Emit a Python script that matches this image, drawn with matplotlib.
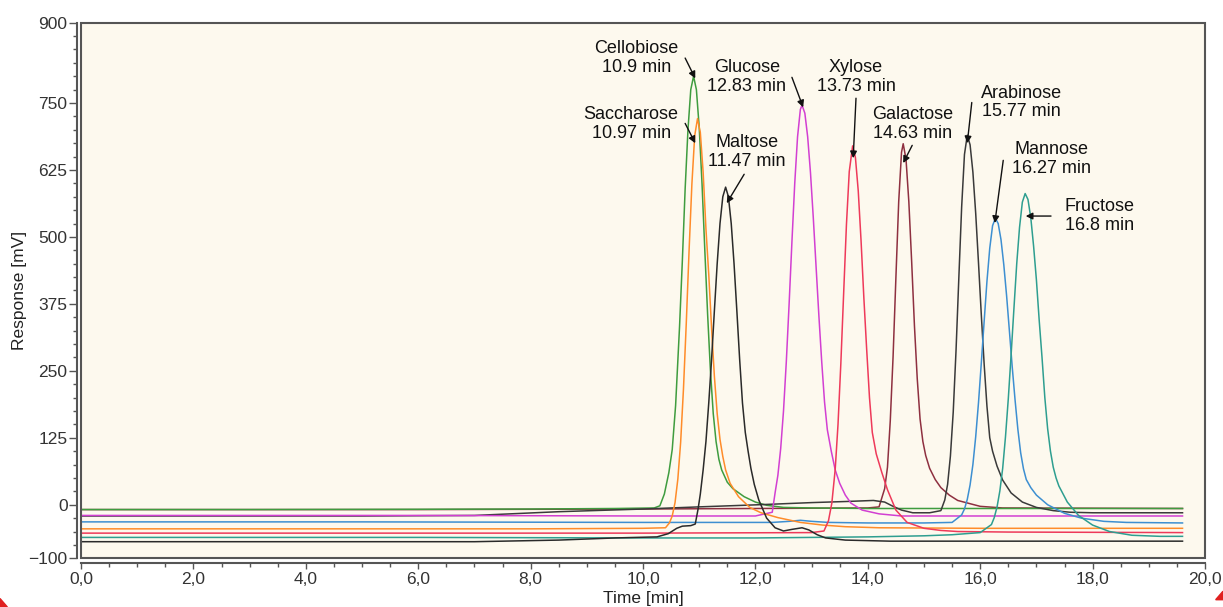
import numpy as np
import matplotlib
matplotlib.use("Agg")
import matplotlib.pyplot as plt
from matplotlib.ticker import MultipleLocator, FuncFormatter
from matplotlib.patches import Rectangle, Polygon

plt.rcParams['font.family'] = ['Liberation Sans', 'DejaVu Sans']

# --- chromatogram traces (time [min], response [mV]) ---
cello_t = [0, 3, 6, 8, 9.5, 10.2, 10.3, 10.38, 10.46, 10.52, 10.58, 10.65, 10.7, 10.75, 10.8,
           10.85, 10.9, 10.95, 11.0, 11.05, 11.1, 11.15, 11.2, 11.25, 11.3, 11.35, 11.4, 11.5,
           11.6, 11.8, 12.0, 12.2, 12.5, 13.0, 14.0, 16.0, 19.6]
cello_v = [-9, -9, -8.5, -8, -7, -6, -2, 20, 60, 103, 185, 332, 455, 590, 700,
           775, 800, 775, 705, 600, 475, 355, 250, 170, 118, 85, 65, 42,
           30, 15, 5, -1, -5, -6, -7, -7, -7]

sacch_t = [0, 4, 8, 10.0, 10.4, 10.47, 10.52, 10.57, 10.62, 10.67, 10.72, 10.77, 10.82, 10.87,
           10.92, 10.97, 11.02, 11.07, 11.12, 11.17, 11.22, 11.27, 11.32, 11.37, 11.42, 11.47,
           11.55, 11.7, 11.9, 12.1, 12.4, 12.8, 13.2, 13.6, 14.2, 16, 19.6]
sacch_v = [-45, -45, -45, -44, -43, -34, -21, 4, 48, 117, 216, 339, 475, 599,
           689, 721, 695, 621, 515, 430, 330, 240, 170, 122, 90, 65,
           40, 15, -5, -15, -24, -33, -38, -41, -43, -44, -44]

malt_t = [0, 4, 7, 8.5, 9.5, 10.25, 10.45, 10.6, 10.7, 10.85, 10.93, 10.98, 11.02, 11.07, 11.12,
          11.17, 11.22, 11.27, 11.32, 11.37, 11.42, 11.47, 11.52, 11.57, 11.62, 11.67, 11.72,
          11.77, 11.82, 11.87, 11.92, 11.98, 12.06, 12.13, 12.2, 12.35, 12.5, 12.65, 12.83,
          12.95, 13.1, 13.25, 13.6, 14.4, 16, 19.6]
malt_v = [-69, -69, -69, -66, -62, -60, -54, -44, -40, -39, -36, -8, 20, 65, 118,
          190, 271, 362, 450, 525, 575, 593, 575, 525, 450, 362, 271,
          190, 135, 100, 68, 38, 9, -8, -25, -43, -49, -46, -43,
          -47, -56, -62, -66, -68, -68, -68]

gluc_t = [0, 6, 10, 12.0, 12.3, 12.35, 12.4, 12.45, 12.5, 12.55, 12.6, 12.65, 12.7, 12.75,
          12.8, 12.83, 12.88, 12.93, 12.98, 13.03, 13.08, 13.13, 13.18, 13.23, 13.28, 13.35,
          13.42, 13.5, 13.6, 13.7, 13.9, 14.2, 14.6, 19.6]
gluc_v = [-20, -20, -21, -21, -14, 22, 55, 105, 175, 267, 375, 491, 600, 687,
          738, 746, 731, 687, 620, 536, 444, 352, 267, 192, 140, 100,
          65, 40, 18, 3, -10, -17, -21, -21]

xyl_t = [0, 6, 10, 13.0, 13.22, 13.3, 13.36, 13.42, 13.47, 13.52, 13.57, 13.62, 13.67, 13.73,
         13.78, 13.83, 13.88, 13.93, 13.98, 14.03, 14.08, 14.15, 14.25, 14.35, 14.5, 14.7,
         15.0, 15.3, 15.6, 16.5, 19.6]
xyl_v = [-53, -53, -53, -52, -49, -30, 3, 66, 150, 263, 394, 523, 622, 670,
         648, 586, 493, 386, 290, 200, 135, 95, 60, 28, -10, -33,
         -44, -48, -50, -51, -52]

galac_t = [0, 6, 10, 14.0, 14.2, 14.3, 14.35, 14.4, 14.45, 14.5, 14.55, 14.6, 14.63, 14.68,
           14.73, 14.78, 14.83, 14.88, 14.93, 14.98, 15.03, 15.1, 15.2, 15.3, 15.45, 15.6,
           16.0, 16.4, 19.6]
galac_v = [-9, -9, -8, -6, -4, 30, 70, 157, 277, 424, 566, 658, 674, 645,
           566, 455, 334, 235, 160, 118, 92, 68, 47, 32, 18, 8,
           -3, -6, -7]

arab_t = [0, 5, 7, 8.5, 10, 11, 12.06, 13, 13.6, 14.1, 14.3, 14.45, 14.6, 14.8, 15.1, 15.3,
          15.37, 15.42, 15.47, 15.52, 15.57, 15.62, 15.67, 15.72, 15.77, 15.82, 15.87, 15.92,
          15.97, 16.02, 16.07, 16.12, 16.17, 16.22, 16.3, 16.4, 16.55, 16.75, 17.0, 17.3,
          17.6, 18.0, 19.6]
arab_v = [-21, -21, -20, -13, -8, -4, 0, 4, 6, 8, 5, -3, -10, -15, -15, -11,
          9, 38, 91, 173, 288, 424, 556, 654, 690, 672, 621, 544,
          451, 354, 263, 184, 125, 100, 72, 46, 22, 5, -5, -11,
          -14, -15, -15]

mann_t = [0, 5, 10, 12.3, 12.6, 12.8, 13.0, 13.3, 14, 15.0, 15.5, 15.67, 15.72, 15.77, 15.82,
          15.87, 15.92, 15.97, 16.02, 16.07, 16.12, 16.17, 16.22, 16.27, 16.32, 16.37, 16.42,
          16.47, 16.52, 16.57, 16.62, 16.67, 16.72, 16.77, 16.82, 16.9, 17.0, 17.2, 17.5,
          17.8, 18.2, 18.6, 19.6]
mann_v = [-32, -32, -33, -33, -31, -29, -31, -33, -34, -34, -33, -19, -8, 10, 37,
          75, 127, 191, 265, 342, 417, 479, 521, 535, 525, 495, 448,
          390, 324, 257, 196, 141, 97, 67, 47, 32, 18, 0, -16,
          -25, -31, -33, -34]

fruc_t = [0, 6, 10, 12, 14, 15, 15.5, 16.0, 16.2, 16.25, 16.3, 16.35, 16.4, 16.45, 16.5,
          16.55, 16.6, 16.65, 16.7, 16.75, 16.8, 16.85, 16.9, 16.95, 17.0, 17.05, 17.1, 17.15,
          17.2, 17.25, 17.3, 17.35, 17.4, 17.55, 17.75, 18.0, 18.3, 18.7, 19.2, 19.6]
fruc_v = [-61, -61, -62, -62, -60, -58, -56, -52, -37, -24, -4, 26, 68, 127, 198,
          280, 366, 450, 518, 565, 581, 570, 536, 483, 420, 344, 275, 200,
          142, 100, 70, 50, 35, 5, -20, -38, -50, -57, -59, -59]

traces = [
    (galac_t, galac_v, '#8e3040'),
    (cello_t, cello_v, '#3f9c3f'),
    (arab_t, arab_v, '#3a3a3a'),
    (gluc_t, gluc_v, '#d23fd2'),
    (mann_t, mann_v, '#3d8fd1'),
    (sacch_t, sacch_v, '#ff8c2a'),
    (xyl_t, xyl_v, '#ee3a5a'),
    (fruc_t, fruc_v, '#2e9e90'),
    (malt_t, malt_v, '#2a2a2a'),
]

# peak labels: text, text position, arrow start, arrow tip (data units)
labels = ["Cellobiose\n10.9 min", "Saccharose\n10.97 min", "Glucose\n12.83 min",
          "Maltose\n11.47 min", "Xylose\n13.73 min", "Galactose\n14.63 min",
          "Arabinose\n15.77 min", "Mannose\n16.27 min", "Fructose\n16.8 min"]
label_pos = [(9.88, 834), (9.79, 711), (11.85, 799), (11.85, 659), (13.79, 799),
             (14.79, 710), (16.73, 751), (17.26, 645), (18.13, 539)]
arrow_from = [(10.75, 834), (10.75, 712), (12.65, 798), (11.80, 617), (13.79, 759),
              (14.79, 671), (15.85, 751), (16.41, 643), (17.26, 539)]
arrow_to = [(10.93, 796), (10.93, 675), (12.85, 742), (11.49, 563), (13.74, 647),
            (14.63, 638), (15.77, 675), (16.26, 526), (16.81, 539)]

y_ticks = [-100, 0, 125, 250, 375, 500, 625, 750, 900]
x_ticks = np.arange(0, 21, 2)

fig = plt.figure(figsize=(12.23, 6.07), dpi=100)
ax = fig.add_axes([81 / 1223, (607 - 558.3) / 607, 1124 / 1223, 535.6 / 607])
ax.set_facecolor('#fdf9ee')

for t, v, c in traces:
    ax.plot(t, v, color=c, lw=1.1)

for txt, p, a0, a1 in zip(labels, label_pos, arrow_from, arrow_to):
    ax.text(p[0], p[1], txt, ha='center', va='center', fontsize=13,
            linespacing=1.15, color='#111111')
    ax.annotate('', xy=a1, xytext=a0,
                arrowprops=dict(arrowstyle='-|>', color='#111111', lw=1.0,
                                mutation_scale=10, shrinkA=0, shrinkB=0))

ax.set_xlim(0, 20)
ax.set_ylim(-100, 900)
ax.set_xticks(x_ticks)
ax.xaxis.set_minor_locator(MultipleLocator(0.5))
ax.xaxis.set_major_formatter(FuncFormatter(lambda x, p: f'{x:.1f}'.replace('.', ',')))
ax.set_yticks(y_ticks)
ax.yaxis.set_minor_locator(MultipleLocator(25))

for s in ['top', 'right']:
    ax.spines[s].set_visible(False)
ax.spines['left'].set_position(('outward', 2.9))
ax.spines['bottom'].set_position(('outward', 3.6))
for s in ['left', 'bottom']:
    ax.spines[s].set_color('#555555')
    ax.spines[s].set_linewidth(1.5)
ax.add_patch(Rectangle((0, 0), 1, 1, transform=ax.transAxes, fill=False,
                       edgecolor='#555555', lw=1.5, clip_on=False, zorder=5))

ax.tick_params(axis='y', which='major', length=5.8, width=1, color='#555555',
               labelsize=12.5, labelcolor='#333333', pad=1)
ax.tick_params(axis='y', which='minor', length=2.9, width=1, color='#555555')
ax.tick_params(axis='x', which='major', length=4.3, width=1, color='#555555',
               labelsize=12.5, labelcolor='#333333', pad=2)
ax.tick_params(axis='x', which='minor', length=2.9, width=1, color='#555555')

ax.set_xlabel('Time [min]', fontsize=12.5, color='#222222', labelpad=3)
ax.set_ylabel('Response [mV]', fontsize=12.5, color='#222222', labelpad=1)

# small red corner marks of the screenshot
fig.patches.append(Polygon([[0, 0], [0.006, 0], [0, 0.014]], closed=True,
                           transform=fig.transFigure, color='#e02020'))
fig.patches.append(Polygon([[1, 0.012], [0.994, 0.012], [1, 0.026]], closed=True,
                           transform=fig.transFigure, color='#e02020'))

fig.savefig('out.png', dpi=100)
